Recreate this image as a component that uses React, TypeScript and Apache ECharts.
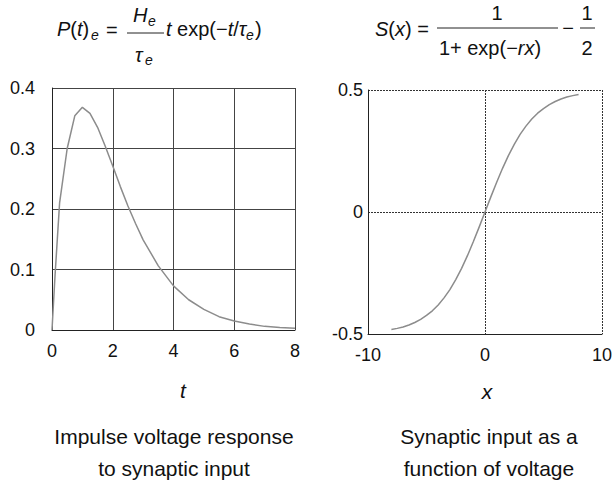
import React, { useEffect, useRef } from "react";
import * as echarts from "echarts";

// Left panel: impulse voltage response P(t)
const tValues = [0, 0.1, 0.25, 0.5, 0.75, 1, 1.25, 1.5, 1.75, 2, 2.25, 2.5, 2.75, 3, 3.5, 4, 4.5, 5, 5.5, 6, 6.5, 7, 7.5, 8];
const pValues = [0, 0.09, 0.21, 0.3, 0.354, 0.368, 0.358, 0.335, 0.304, 0.271, 0.237, 0.205, 0.176, 0.149, 0.106, 0.073, 0.05, 0.034, 0.022, 0.015, 0.01, 0.006, 0.004, 0.003];

// Right panel: sigmoid S(x)
const xValues = [-8, -7.5, -7, -6.5, -6, -5.5, -5, -4.5, -4, -3.5, -3, -2.5, -2, -1.5, -1, -0.5, 0, 0.5, 1, 1.5, 2, 2.5, 3, 3.5, 4, 4.5, 5, 5.5, 6, 6.5, 7, 7.5, 8];
const sValues = [-0.482, -0.477, -0.471, -0.463, -0.453, -0.44, -0.424, -0.405, -0.381, -0.352, -0.318, -0.277, -0.231, -0.179, -0.122, -0.062, 0, 0.062, 0.122, 0.179, 0.231, 0.277, 0.318, 0.352, 0.381, 0.405, 0.424, 0.44, 0.453, 0.463, 0.471, 0.477, 0.482];

const leftXTicks = { min: 0, max: 8, interval: 2 };
const leftYTicks = { min: 0, max: 0.4, interval: 0.1 };
const rightXTicks = { min: -10, max: 10, interval: 10 };
const rightYTicks = { min: -0.5, max: 0.5, interval: 0.5 };

const leftAxisName = "t";
const rightAxisName = "x";
const leftCaption = ["Impulse voltage response", "to synaptic input"];
const rightCaption = ["Synaptic input as a", "function of voltage"];

const FF = "'Liberation Sans', Arial, Helvetica, sans-serif";

function txt(text: string, x: number, y: number, size: number, opts: any = {}) {
  return {
    type: "text",
    x,
    y,
    silent: true,
    style: {
      text,
      fontSize: size,
      fontFamily: FF,
      fontStyle: opts.italic ? "italic" : "normal",
      fill: "#111",
      align: opts.align || "left",
      verticalAlign: "middle",
      rich: opts.rich,
    },
  };
}

function bar(x1: number, x2: number, y: number) {
  return {
    type: "line",
    silent: true,
    shape: { x1, y1: y, x2, y2: y },
    style: { stroke: "#222", lineWidth: 1 },
  };
}

const richItalic = (size: number) => ({
  i: { fontStyle: "italic", fontSize: size, fontFamily: FF, fill: "#111" },
  n: { fontStyle: "normal", fontSize: size, fontFamily: FF, fill: "#111" },
});

export default function App() {
  const ref = useRef<HTMLDivElement>(null);

  useEffect(() => {
    if (!ref.current) return;
    const chart = echarts.init(ref.current, null, { renderer: "svg" });

    const axisLabel = (margin: number) => ({
      color: "#111",
      fontSize: 18,
      fontFamily: FF,
      margin,
    });

    const option: any = {
      animation: false,
      backgroundColor: "#fff",
      grid: [
        { left: 52, top: 88, width: 243, height: 242 },
        { left: 368, top: 90, width: 238, height: 244 },
      ],
      xAxis: [
        {
          type: "value",
          gridIndex: 0,
          ...leftXTicks,
          axisLine: { show: true, lineStyle: { color: "#222", width: 1 } },
          axisTick: { show: false },
          axisLabel: axisLabel(12),
          splitLine: { show: true, lineStyle: { color: "#444", width: 1, type: "solid" } },
        },
        {
          type: "value",
          gridIndex: 1,
          ...rightXTicks,
          axisLine: { show: true, onZero: false, lineStyle: { color: "#222", width: 1 } },
          axisTick: { show: false },
          axisLabel: axisLabel(12),
          splitLine: { show: true, lineStyle: { color: "#333", width: 1, type: [2, 1] } },
        },
      ],
      yAxis: [
        {
          type: "value",
          gridIndex: 0,
          ...leftYTicks,
          axisLine: { show: true, lineStyle: { color: "#222", width: 1 } },
          axisTick: { show: false },
          axisLabel: axisLabel(17),
          splitLine: { show: true, lineStyle: { color: "#444", width: 1, type: "solid" } },
        },
        {
          type: "value",
          gridIndex: 1,
          ...rightYTicks,
          axisLine: { show: true, onZero: false, lineStyle: { color: "#222", width: 1 } },
          axisTick: { show: false },
          axisLabel: axisLabel(5),
          splitLine: { show: true, lineStyle: { color: "#333", width: 1, type: [2, 1] } },
        },
      ],
      series: [
        {
          type: "line",
          xAxisIndex: 0,
          yAxisIndex: 0,
          showSymbol: false,
          smooth: false,
          lineStyle: { color: "#8c8c8c", width: 1.5 },
          data: tValues.map((t, i) => [t, pValues[i]]),
        },
        {
          type: "line",
          xAxisIndex: 1,
          yAxisIndex: 1,
          showSymbol: false,
          smooth: false,
          lineStyle: { color: "#8c8c8c", width: 1.5 },
          data: xValues.map((x, i) => [x, sValues[i]]),
        },
      ],
      graphic: [
        // Left formula: P(t)_e = H_e / tau_e  t exp(-t/tau_e)
        txt("{i|P}{n|(}{i|t}{n|)}", 57, 29, 20, { rich: richItalic(20) }),
        txt("e", 91, 35, 14, { italic: true }),
        txt("=", 106, 30, 20),
        bar(127, 164, 33),
        txt("H", 133, 15, 20, { italic: true }),
        txt("e", 148, 21, 14, { italic: true }),
        txt("\u03c4", 135, 55, 20, { italic: true }),
        txt("e", 145, 60, 14, { italic: true }),
        txt("{i|t}{n| exp(\u2212}{i|t}{n|/}{i|\u03c4}", 166, 29, 20, { rich: richItalic(20) }),
        txt("e", 246, 35, 14, { italic: true }),
        txt(")", 255, 29, 20),

        // Right formula: S(x) = 1/(1+exp(-rx)) - 1/2
        txt("{i|S}{n|(}{i|x}{n|) =}", 375, 29, 20, { rich: richItalic(20) }),
        bar(437, 558, 28),
        txt("1", 497, 13, 20, { align: "center" }),
        txt("{n|1+ exp(\u2212}{i|rx}{n|)}", 490, 48, 20, { align: "center", rich: richItalic(20) }),
        txt("\u2212", 568, 28, 20, { align: "center" }),
        bar(580, 595, 28),
        txt("1", 587, 13, 20, { align: "center" }),
        txt("2", 587, 48, 20, { align: "center" }),

        // Axis names
        txt(leftAxisName, 183, 390, 21, { italic: true, align: "center" }),
        txt(rightAxisName, 487, 391, 21, { italic: true, align: "center" }),

        // Captions
        txt(leftCaption[0], 174, 436, 21, { align: "center" }),
        txt(leftCaption[1], 174, 468, 21, { align: "center" }),
        txt(rightCaption[0], 489, 436, 21, { align: "center" }),
        txt(rightCaption[1], 489, 468, 21, { align: "center" }),
      ],
    };

    chart.setOption(option);
    return () => chart.dispose();
  }, []);

  return (
    <div
      ref={ref}
      style={{ position: "fixed", left: 0, top: 0, width: 615, height: 481, background: "#fff" }}
    />
  );
}
